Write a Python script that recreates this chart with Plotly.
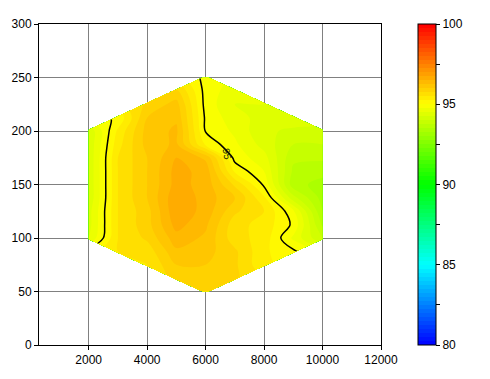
import numpy as np
import plotly.graph_objects as go

# Grid positions (data units)
x_vals = [2000, 3000, 4000, 5000, 6000, 7000, 8000, 9000, 10000]
y_vals = [50, 62.5, 75, 87.5, 100, 112.5, 125, 137.5, 150, 162.5, 175,
          187.5, 200, 212.5, 225, 237.5, 250]

N = None
# Values, one list per x column (bottom -> top), None = outside hexagon
col_2000 = [N, N, N, N, 94.5, 94.4, 94.4, 94.3, 94.3, 94.3, 94.3, 94.3, 94.3, N, N, N, N]
col_3000 = [N, N, N, 95.5, 95.5, 95.5, 95.5, 95.5, 95.5, 95.5, 95.5, 95.4, 95.3, 95.05, N, N, N]
col_4000 = [N, N, 95.5, 95.6, 95.8, 95.9, 95.9, 96.0, 96.0, 96.0, 96.0, 96.1, 96.1, 96.0, 95.8, N, N]
col_5000 = [N, 95.8, 96.0, 96.2, 96.4, 96.6, 96.7, 96.7, 96.6, 96.6, 96.5, 96.3, 96.3, 96.2, 96.1, 95.8, N]
col_6000 = [95.8, 95.9, 96.0, 96.1, 96.2, 96.3, 96.4, 96.4, 96.4, 96.4, 96.2, 95.2, 94.98, 94.95, 94.9, 94.9, 94.9]
col_7000 = [N, 95.8, 95.8, 95.8, 95.6, 95.6, 95.8, 96.0, 95.7, 95.2, 94.9, 94.8, 94.7, 94.6, 94.5, 94.6, N]
col_8000 = [N, N, 95.3, 95.3, 95.4, 95.4, 95.5, 95.3, 94.95, 94.75, 94.6, 94.4, 94.3, 94.4, 94.5, N, N]
col_9000 = [N, N, N, 95.05, 94.7, 94.95, 94.8, 94.1, 93.6, 93.7, 93.8, 94.0, 94.2, 94.4, N, N, N]
col_10000 = [N, N, N, N, 94.0, 93.7, 93.5, 93.4, 93.4, 93.6, 93.8, 94.0, 94.2, N, N, N, N]

columns = [col_2000, col_3000, col_4000, col_5000, col_6000,
           col_7000, col_8000, col_9000, col_10000]
z = np.array([[np.nan if v is None else v for v in c] for c in columns], dtype=float).T
z_list = [[None if np.isnan(v) else float(v) for v in row] for row in z]

cbar_ticks = [80, 82.5, 85, 87.5, 90, 92.5, 95, 97.5, 100]
cbar_text = ["80", "", "85", "", "90", "", "95", "", "100"]

# contour label (text and where it sits on the 95 line)
label_text = "95"
label_x = 6716
label_y = 178.6

jet = [[0.0, "#0000ff"], [0.25, "#00ffff"], [0.5, "#00ff00"],
       [0.75, "#ffff00"], [1.0, "#ff0000"]]

fig = go.Figure()
fig.add_trace(go.Contour(
    x=x_vals, y=y_vals, z=z_list,
    zmin=80, zmax=100, autocontour=False,
    contours=dict(start=80, end=100, size=0.25, coloring="fill", showlines=False),
    line=dict(width=0),
    colorscale=jet, connectgaps=False, hoverinfo="skip",
    colorbar=dict(
        x=1.108, xanchor="left", xpad=0, y=0.5, yanchor="middle",
        len=1.0, lenmode="fraction", ypad=0, thickness=18,
        outlinewidth=1, outlinecolor="black",
        tickmode="array", tickvals=cbar_ticks, ticktext=cbar_text,
        ticks="outside", ticklen=4, tickcolor="black",
        tickfont=dict(size=12, color="black"),
    ),
))
fig.add_trace(go.Contour(
    x=x_vals, y=y_vals, z=z_list,
    autocontour=False,
    contours=dict(start=95, end=95, size=1, coloring="none", showlabels=False),
    line=dict(color="black", width=1.5),
    showscale=False, connectgaps=False, hoverinfo="skip",
))
fig.add_annotation(x=label_x, y=label_y, xref="x", yref="y", text=label_text,
                   showarrow=False, textangle=80,
                   font=dict(size=10, color="#1a2a00"))

axis_common = dict(
    showgrid=True, gridcolor="#808080", gridwidth=1,
    showline=True, linecolor="black", linewidth=1, mirror=True,
    ticks="outside", ticklen=4, tickcolor="black", zeroline=False,
    tickfont=dict(size=12, color="black"),
)
fig.update_layout(
    width=490, height=379,
    margin=dict(l=38, r=109, t=24, b=19),
    paper_bgcolor="white", plot_bgcolor="white",
    font=dict(family="Liberation Sans, Arial, sans-serif", size=12, color="black"),
    xaxis=dict(range=[300, 12000], tick0=0, dtick=2000, tickformat="d", **axis_common),
    yaxis=dict(range=[0, 300], tick0=0, dtick=50, **axis_common),
    showlegend=False,
)
fig.write_html("out.html")
